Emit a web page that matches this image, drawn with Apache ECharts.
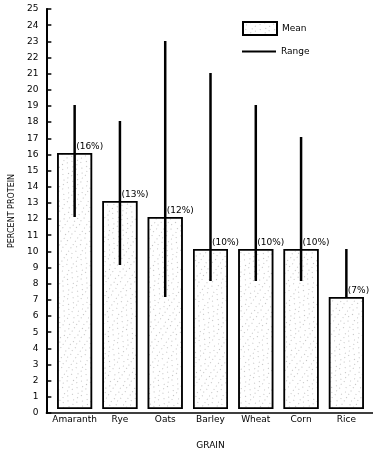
<!DOCTYPE html>
<html>
<head>
<meta charset="utf-8">
<script src="https://cdn.jsdelivr.net/npm/echarts@6/dist/echarts.min.js"></script>
<style>html,body{margin:0;padding:0;background:#fff}#c{width:373px;height:455px}</style>
</head>
<body>
<div id="c"></div>
<script>
var categories = ['Amaranth', 'Rye', 'Oats', 'Barley', 'Wheat', 'Corn', 'Rice'];
var meanValues = [16, 13, 12, 10, 10, 10, 7];
var rangeLow = [12, 9, 7, 8, 8, 8, 7];
var rangeHigh = [19, 18, 23, 21, 19, 17, 10];
var meanLabels = ['(16%)', '(13%)', '(12%)', '(10%)', '(10%)', '(10%)', '(7%)'];

var FONT = 'DejaVu Sans';
var chart = echarts.init(document.getElementById('c'), null, {renderer: 'canvas'});

var rangeData = categories.map(function (c, i) { return [i, rangeLow[i], rangeHigh[i]]; });

chart.setOption({
  animation: false,
  backgroundColor: '#fff',
  textStyle: {fontFamily: FONT, color: '#000'},
  legend: [{
    data: [{name: 'Mean', icon: 'rect'}],
    left: 237, top: 16, itemWidth: 34, itemHeight: 13, itemGap: 8,
    textStyle: {fontFamily: FONT, fontSize: 9, color: '#000'},
    selectedMode: false
  }, {
    data: [{name: 'Range', icon: 'rect'}],
    left: 237, top: 42, itemWidth: 34, itemHeight: 2, itemGap: 8,
    itemStyle: {color: '#000', borderWidth: 0},
    textStyle: {fontFamily: FONT, fontSize: 9, color: '#000'},
    selectedMode: false
  }],
  grid: [
    {left: 52, right: 4, top: 9, bottom: 42},
    {left: 40, right: 0, top: 9, bottom: 42}
  ],
  xAxis: [{
    type: 'category', gridIndex: 0, data: categories,
    axisLine: {show: false}, axisTick: {show: false},
    axisLabel: {fontFamily: FONT, fontSize: 9, color: '#000', margin: 6, interval: 0},
    name: 'GRAIN', nameLocation: 'middle', nameGap: 32,
    nameTextStyle: {fontFamily: FONT, fontSize: 9, color: '#000'}
  }, {
    type: 'value', gridIndex: 1, min: 0, max: 1,
    axisLine: {show: true, lineStyle: {color: '#000', width: 1.5}},
    axisTick: {show: false}, axisLabel: {show: false}, splitLine: {show: false}
  }],
  yAxis: [{
    type: 'value', gridIndex: 0, min: 0, max: 25, interval: 1,
    show: false, splitLine: {show: false}
  }, {
    type: 'value', gridIndex: 1, min: 0, max: 25, interval: 1,
    axisLine: {show: true, lineStyle: {color: '#000', width: 2}},
    axisTick: {show: true, inside: true, length: 5, lineStyle: {color: '#000', width: 1.5}},
    axisLabel: {fontFamily: FONT, fontSize: 9, color: '#000', margin: 8},
    splitLine: {show: false},
    name: 'PERCENT PROTEIN', nameLocation: 'middle', nameGap: 28, nameRotate: 90,
    nameTextStyle: {fontFamily: FONT, fontSize: 8, color: '#000'}
  }],
  series: [{
    name: 'Mean', type: 'bar', xAxisIndex: 0, yAxisIndex: 0,
    data: meanValues, barWidth: 35,
    itemStyle: {
      color: '#fff', borderColor: '#000', borderWidth: 1.5,
      decal: {symbol: 'rect', symbolSize: 0.6, color: '#333',
        dashArrayX: [[1, 5], [1, 3, 1, 6]], dashArrayY: [1, 3], rotation: 0.6}
    },
    label: {
      show: true,
      position: [19, -11],
      align: 'left',
      formatter: function (p) { return meanLabels[p.dataIndex]; },
      fontFamily: FONT, fontSize: 9, color: '#000'
    },
    z: 2
  }, {
    name: 'Range', type: 'custom', xAxisIndex: 0, yAxisIndex: 0,
    data: rangeData,
    itemStyle: {color: '#000'},
    renderItem: function (params, api) {
      var lo = api.coord([api.value(0), api.value(1)]);
      var hi = api.coord([api.value(0), api.value(2)]);
      return {
        type: 'line',
        shape: {x1: lo[0], y1: lo[1], x2: hi[0], y2: hi[1]},
        style: {stroke: '#000', lineWidth: 2.5}
      };
    },
    z: 3
  }]
});
</script>
</body>
</html>
